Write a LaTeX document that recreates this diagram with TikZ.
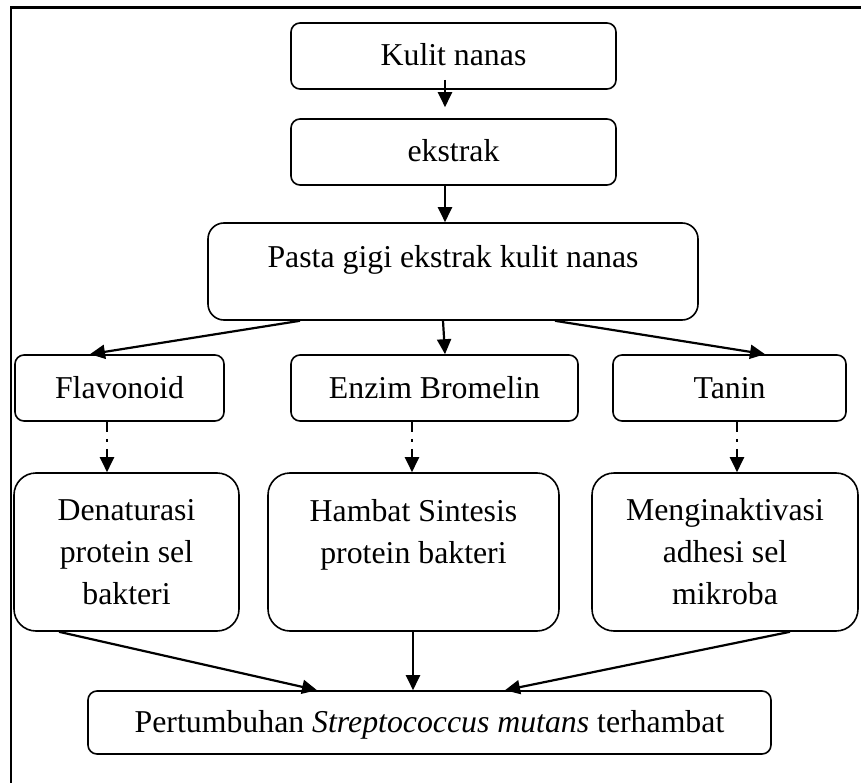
\documentclass[tikz,border=0pt]{standalone}
\usepackage{fontspec}
\setmainfont{Liberation Serif}
\usetikzlibrary{arrows.meta}
\begin{document}
\begin{tikzpicture}[x=1pt,y=-1pt,
  box/.style={draw, line width=1.6pt, align=center, inner sep=0pt,
    font=\fontsize{31.8}{42}\selectfont},
  onebox/.style={box, rounded corners=9pt, text height=22pt, text depth=2pt},
  bigbox/.style={box, rounded corners=22pt},
  arr/.style={line width=2.2pt, -{Triangle[length=15pt,width=14pt]}},
  dotarr/.style={arr, dash pattern=on 10pt off 7pt on 3pt off 7pt}]
\useasboundingbox (0,0) rectangle (861,783);
\draw[line width=2.4pt] (11,783) -- (11,7.5) -- (861,7.5);

\node[onebox, minimum width=325pt, minimum height=66pt] (kulit) at (453.5,56) {Kulit nanas};
\node[onebox, minimum width=325pt, minimum height=66pt] (ekstrak) at (453.5,152) {ekstrak};
\node[box, rounded corners=16pt, text height=22pt, text depth=29pt, minimum width=490pt, minimum height=97pt] (pasta) at (453,271.5) {Pasta gigi ekstrak kulit nanas};
\node[onebox, minimum width=209pt, minimum height=66pt] (flav) at (119.5,388) {Flavonoid};
\node[onebox, minimum width=287pt, minimum height=66pt] (enzim) at (434.5,388) {Enzim Bromelin};
\node[onebox, minimum width=233pt, minimum height=66pt] (tanin) at (729.5,388) {Tanin};
\node[bigbox, minimum width=225pt, minimum height=158pt] (denat) at (126.5,552) {Denaturasi\\protein sel\\bakteri};
\node[bigbox, minimum width=291pt, minimum height=158pt] (hambat) at (413.5,552) {Hambat Sintesis\\protein bakteri\\\mbox{}};
\node[bigbox, minimum width=266pt, minimum height=158pt] (mengin) at (725,552) {Menginaktivasi\\adhesi sel\\mikroba};
\node[onebox, minimum width=683pt, minimum height=63pt] (pert) at (429.5,722.5) {Pertumbuhan \textit{Streptococcus mutans} terhambat};

\draw[arr] ([xshift=-8.5pt,yshift=10pt]kulit.south) -- ([xshift=-8.5pt,yshift=11pt]ekstrak.north);
\draw[arr] ([xshift=-8.5pt]ekstrak.south) -- ([xshift=-8pt]pasta.north);
\draw[arr] ([xshift=-153pt]pasta.south) -- ([xshift=-29.5pt]flav.north);
\draw[arr] ([xshift=-10pt]pasta.south) -- ([xshift=10.5pt]enzim.north);
\draw[arr] ([xshift=102pt]pasta.south) -- ([xshift=35.5pt]tanin.north);
\draw[dotarr] ([xshift=-12.5pt]flav.south) -- ([xshift=-19.5pt]denat.north);
\draw[dotarr] ([xshift=-22.5pt]enzim.south) -- ([xshift=-1.5pt]hambat.north);
\draw[dotarr] ([xshift=7.5pt]tanin.south) -- ([xshift=12pt]mengin.north);
\draw[arr] ([xshift=-67.5pt]denat.south) -- ([xshift=-112.5pt]pert.north);
\draw[arr] ([xshift=-0.5pt]hambat.south) -- ([xshift=-16.5pt]pert.north);
\draw[arr] ([xshift=65pt]mengin.south) -- ([xshift=75.5pt]pert.north);
\end{tikzpicture}
\end{document}
